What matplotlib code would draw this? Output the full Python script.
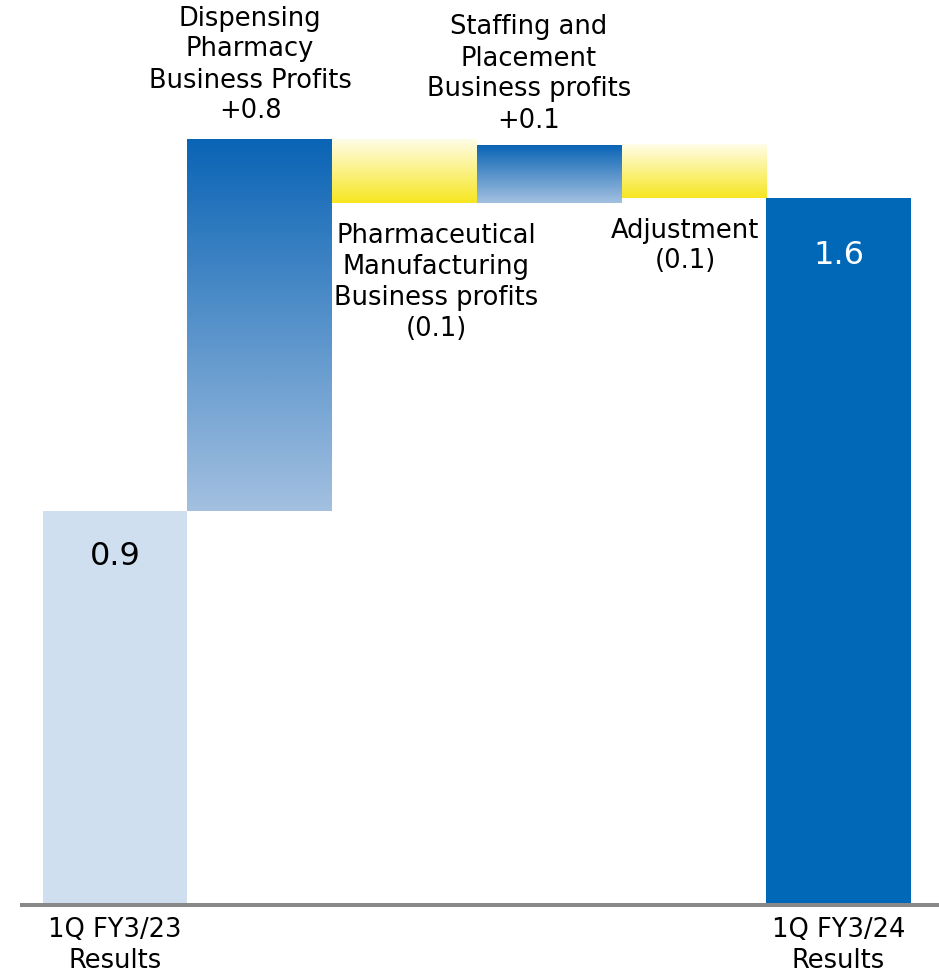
import numpy as np
import matplotlib.pyplot as plt
from matplotlib.colors import LinearSegmentedColormap

# billions of yen
start = 0.90
deltas = [0.848, -0.144, 0.132, -0.122]
labels_top = ["Dispensing\nPharmacy\nBusiness Profits\n+0.8",
              "Pharmaceutical\nManufacturing\nBusiness profits\n(0.1)",
              "Staffing and\nPlacement\nBusiness profits\n+0.1",
              "Adjustment\n(0.1)"]
ticks = ["1Q FY3/23\nResults", "1Q FY3/24\nResults"]

end = start + sum(deltas)

W, H = 939, 973
fig = plt.figure(figsize=(W / 100, H / 100), dpi=100)
ppu = 437.8
ax = fig.add_axes([20 / W, 68 / H, 919 / W, 905 / H])
ax.set_xlim(-0.657, 5.694)
ax.set_ylim(0, 905 / ppu)
ax.axis("off")

blue_grad = LinearSegmentedColormap.from_list("bg", ["#A3C0E0", "#0A64B5"])
yel_grad = LinearSegmentedColormap.from_list("yg", ["#F7E620", "#FFFDE8"])
grad = np.linspace(0, 1, 256).reshape(-1, 1)

fs = 18.5

ax.bar(0, start, width=1.0, color="#CFDFF0", zorder=2)
ax.text(0, start - 0.105, "0.9", ha="center", va="center", fontsize=23)

level = start
for i, d in enumerate(deltas, start=1):
    lo, hi = sorted([level, level + d])
    cmap = blue_grad if d > 0 else yel_grad
    ax.imshow(grad, extent=[i - 0.5, i + 0.5, lo, hi], origin="lower",
              cmap=cmap, aspect="auto", zorder=2, interpolation="bicubic")
    level += d

ax.bar(5, end, width=1.0, color="#0068B7", zorder=2)
ax.text(5, end - 0.13, "1.6", ha="center", va="center", fontsize=23, color="white")


def py(px):
    return (905 - px) / ppu


ls = 1.25
ax.text(0.933, py(65), labels_top[0], ha="center", va="center",
        fontsize=fs, linespacing=ls)
ax.text(2.218, py(282.5), labels_top[1], ha="center", va="center",
        fontsize=fs, linespacing=ls)
ax.text(2.861, py(74), labels_top[2], ha="center", va="center",
        fontsize=fs, linespacing=ls)
ax.text(3.938, py(246), labels_top[3], ha="center", va="center",
        fontsize=fs, linespacing=ls)

ax.plot([-0.657, 5.694], [0, 0], color="#888888", lw=2.9, zorder=3,
        solid_capstyle="butt", clip_on=False)

ax.text(0, py(945.5), ticks[0], ha="center", va="center", fontsize=fs,
        linespacing=ls)
ax.text(5, py(945.5), ticks[1], ha="center", va="center", fontsize=fs,
        linespacing=ls)

fig.savefig("out.png", dpi=100)
